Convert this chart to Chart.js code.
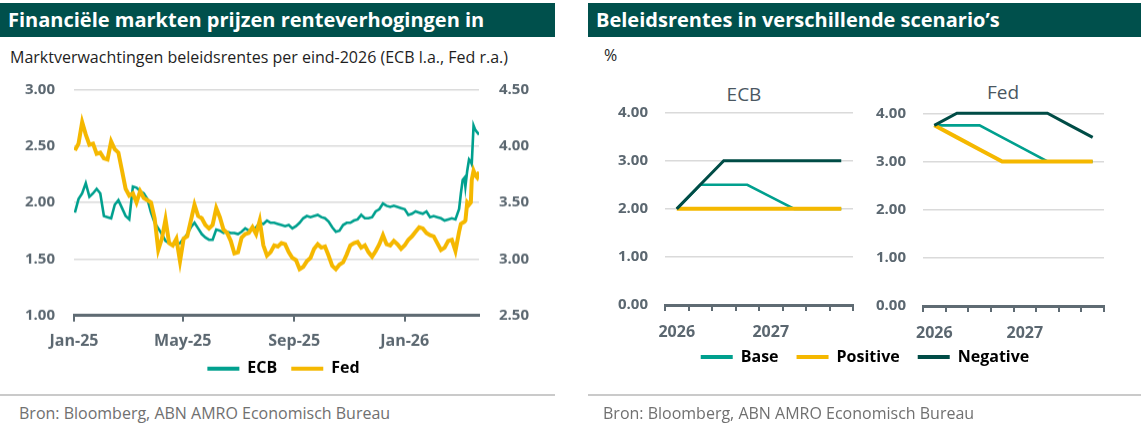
<!DOCTYPE html>
<html>
<head>
<meta charset="utf-8">
<title>Beleidsrentes</title>
<script src="https://cdn.jsdelivr.net/npm/chart.js"></script>
<style>
  body { margin:0; width:1145px; height:430px; background:#fff; position:relative; overflow:hidden;
         font-family:'Open Sans', sans-serif; }
  .bar { position:absolute; top:3px; height:34px; background:#00504c; color:#fff; font-weight:700;
         font-size:20px; line-height:34px; padding-left:8px; box-sizing:border-box; white-space:nowrap; }
  .sub { position:absolute; font-size:16px; line-height:22px; color:#1e1e1e; white-space:nowrap; }
  .panel { position:absolute; font-size:19px; color:#4a5761; transform:translateX(-50%); }
  .sep { position:absolute; top:394px; height:2px; background:#cacaca; }
  .src { position:absolute; top:402px; font-size:16px; line-height:22px; color:#707070; white-space:nowrap; }
  .box { position:absolute; }
</style>
</head>
<body>
<div class="bar" style="left:0;width:555px">Financiële markten prijzen renteverhogingen in</div>
<div class="bar" style="left:588px;width:553px">Beleidsrentes in verschillende scenario’s</div>
<div class="sub" style="left:10px;top:46px">Marktverwachtingen beleidsrentes per eind-2026 (ECB l.a., Fed r.a.)</div>
<div class="sub" style="left:604px;top:44px">%</div>
<div class="panel" style="left:744px;top:81px">ECB</div>
<div class="panel" style="left:1003px;top:79px">Fed</div>

<div class="box" style="left:0;top:75px;width:553px;height:317.7px"><canvas id="left"></canvas></div>
<div class="box" style="left:588px;top:80px;width:280px;height:265px"><canvas id="ecb"></canvas></div>
<div class="box" style="left:588px;top:80px;width:557px;height:308px"><canvas id="fed"></canvas></div>

<div class="sep" style="left:0;width:555px"></div>
<div class="sep" style="left:588px;width:553px"></div>
<div class="src" style="left:19px">Bron: Bloomberg, ABN AMRO Economisch Bureau</div>
<div class="src" style="left:603px">Bron: Bloomberg, ABN AMRO Economisch Bureau</div>

<script>
// left chart: market pricing of policy rates for end-2026
const dates = [
  '2025-01-02','2025-01-06','2025-01-10','2025-01-14','2025-01-18','2025-01-22','2025-01-26','2025-01-30',
  '2025-02-03','2025-02-07','2025-02-11','2025-02-15','2025-02-19','2025-02-23','2025-02-27',
  '2025-03-03','2025-03-07','2025-03-11','2025-03-15','2025-03-19','2025-03-23','2025-03-27','2025-03-31',
  '2025-04-04','2025-04-08','2025-04-12','2025-04-16','2025-04-20','2025-04-24','2025-04-28',
  '2025-05-02','2025-05-06','2025-05-10','2025-05-14','2025-05-18','2025-05-22','2025-05-26','2025-05-30',
  '2025-06-03','2025-06-07','2025-06-11','2025-06-15','2025-06-19','2025-06-23','2025-06-27',
  '2025-07-01','2025-07-05','2025-07-09','2025-07-13','2025-07-17','2025-07-21','2025-07-25','2025-07-29',
  '2025-08-02','2025-08-06','2025-08-10','2025-08-14','2025-08-18','2025-08-22','2025-08-26','2025-08-30',
  '2025-09-03','2025-09-07','2025-09-11','2025-09-15','2025-09-19','2025-09-23','2025-09-27',
  '2025-10-01','2025-10-05','2025-10-09','2025-10-13','2025-10-17','2025-10-21','2025-10-25','2025-10-29',
  '2025-11-02','2025-11-06','2025-11-10','2025-11-14','2025-11-18','2025-11-22','2025-11-26','2025-11-30',
  '2025-12-04','2025-12-08','2025-12-12','2025-12-16','2025-12-20','2025-12-24','2025-12-28',
  '2026-01-01','2026-01-05','2026-01-09','2026-01-13','2026-01-17','2026-01-21','2026-01-25','2026-01-29',
  '2026-02-02','2026-02-06','2026-02-10','2026-02-14','2026-02-18','2026-02-22','2026-02-26',
  '2026-03-02','2026-03-04','2026-03-06','2026-03-08','2026-03-09','2026-03-11','2026-03-13',
  '2026-03-15','2026-03-16','2026-03-18','2026-03-20','2026-03-22','2026-03-24'
];
const ecb = [
  1.91, 2.03, 2.08, 2.17, 2.05, 2.08, 2.12, 2.08,
  1.88, 1.87, 1.86, 1.98, 2.02, 1.95, 1.88,
  1.85, 2.14, 2.13, 2.10, 2.08, 2.03, 1.91, 1.82,
  1.77, 1.72, 1.66, 1.64, 1.63, 1.63, 1.64,
  1.68, 1.72, 1.78, 1.82, 1.77, 1.72, 1.69, 1.67,
  1.67, 1.76, 1.75, 1.73, 1.74, 1.73, 1.73,
  1.72, 1.74, 1.77, 1.75, 1.76, 1.78, 1.82, 1.81,
  1.84, 1.82, 1.82, 1.81, 1.80, 1.79, 1.80, 1.77,
  1.79, 1.82, 1.86, 1.88, 1.87, 1.88, 1.89,
  1.87, 1.86, 1.83, 1.78, 1.74, 1.75, 1.80, 1.82,
  1.82, 1.84, 1.85, 1.89, 1.86, 1.86, 1.87, 1.92,
  1.94, 1.99, 1.97, 1.96, 1.97, 1.96, 1.95,
  1.94, 1.89, 1.90, 1.92, 1.91, 1.90, 1.92, 1.87,
  1.88, 1.87, 1.86, 1.84, 1.85, 1.86, 1.85,
  1.94, 2.08, 2.20, 2.22, 2.14, 2.28, 2.38,
  2.36, 2.34, 2.68, 2.64, 2.62, 2.60
];
const fed = [
  3.96, 4.02, 4.21, 4.10, 4.01, 4.02, 3.93, 3.94,
  3.89, 3.88, 4.04, 3.97, 3.94, 3.78, 3.62,
  3.56, 3.58, 3.50, 3.60, 3.54, 3.52, 3.50, 3.36,
  3.08, 3.18, 3.35, 3.14, 3.12, 3.18, 2.98,
  3.18, 3.20, 3.34, 3.48, 3.38, 3.36, 3.30, 3.27,
  3.30, 3.45, 3.37, 3.26, 3.23, 3.16, 3.05,
  3.06, 3.19, 3.22, 3.23, 3.28, 3.22, 3.34, 3.12,
  3.03, 3.06, 3.12, 3.11, 3.14, 3.13, 3.06, 3.01,
  2.99, 2.91, 2.93, 2.98, 3.01, 3.09, 3.13,
  3.10, 3.11, 3.03, 2.94, 2.91, 2.95, 2.97, 3.04,
  3.12, 3.14, 3.15, 3.10, 3.12, 3.06, 3.02, 3.07,
  3.13, 3.21, 3.13, 3.12, 3.16, 3.13, 3.09,
  3.12, 3.17, 3.20, 3.24, 3.28, 3.27, 3.23, 3.21,
  3.20, 3.14, 3.08, 3.10, 3.16, 3.17, 3.07,
  3.24, 3.31, 3.32, 3.33, 3.34, 3.50, 3.48,
  3.50, 3.70, 3.78, 3.74, 3.72, 3.77
];
const axisStart = '2025-01-01';
const axisEnd = '2026-03-24';
const tickDates = ['2025-01-01', '2025-05-01', '2025-09-01', '2026-01-01'];
const tickLabels = ['Jan-25', 'May-25', 'Sep-25', 'Jan-26'];

// right charts: policy rate scenarios per quarter
const quarters = ['2026', '', '', '', '2027', '', '', ''];
const ecbBase     = [2.00, 2.50, 2.50, 2.50, 2.25, 2.00, 2.00, 2.00];
const ecbPositive = [2.00, 2.00, 2.00, 2.00, 2.00, 2.00, 2.00, 2.00];
const ecbNegative = [2.00, 2.50, 3.00, 3.00, 3.00, 3.00, 3.00, 3.00];
const fedBase     = [3.75, 3.75, 3.75, 3.50, 3.25, 3.00, 3.00, 3.00];
const fedPositive = [3.75, 3.50, 3.25, 3.00, 3.00, 3.00, 3.00, 3.00];
const fedNegative = [3.75, 4.00, 4.00, 4.00, 4.00, 4.00, 3.75, 3.50];

const TEAL = '#00a08e', YELLOW = '#f5b800', DARK = '#004c46';
const TXT = '#5b6770', AXIS = '#5f6b73', GRID = '#dadada';
const tickFont = { family: 'Open Sans', size: 15, weight: 'bold' };
const xFont = { family: 'Open Sans', size: 16, weight: 'bold' };

Chart.defaults.font.family = 'Open Sans';
Chart.defaults.animation = false;
Chart.defaults.plugins.tooltip.enabled = false;

const day = s => (Date.parse(s) - Date.parse(axisStart)) / 864e5;
// fixed axis sizes so the plot areas land where the reference has them
const fixWidth = w => s => { s.width = w; s.paddingTop = 0; s.paddingBottom = 0; };
const fixHeight = h => s => { s.height = h; };

// the reference tucks the legend right under the axis labels
const liftLegend = px => ({
  id: 'liftLegend',
  afterLayout(chart) {
    const l = chart.legend;
    if (l) { l.top -= px; l.bottom -= px; }
  }
});

const legendOf = gap => ({
  position: 'bottom',
  labels: {
    boxWidth: 32, boxHeight: 4, padding: gap, color: TXT, font: xFont,
    generateLabels: chart => chart.data.datasets.map((ds, i) => ({
      text: ds.label, fillStyle: ds.borderColor, strokeStyle: ds.borderColor,
      lineWidth: 0, hidden: false, datasetIndex: i
    }))
  }
});

new Chart(document.getElementById('left'), {
  type: 'line',
  data: {
    datasets: [
      { label: 'ECB', data: dates.map((d, i) => ({ x: day(d), y: ecb[i] })), yAxisID: 'yL',
        borderColor: TEAL, borderWidth: 2.6, pointRadius: 0, tension: 0, order: 2 },
      { label: 'Fed', data: dates.map((d, i) => ({ x: day(d), y: fed[i] })), yAxisID: 'yR',
        borderColor: YELLOW, borderWidth: 4, pointRadius: 0, tension: 0, order: 1 }
    ]
  },
  plugins: [liftLegend(7)],
  options: {
    responsive: true, maintainAspectRatio: false,
    layout: { padding: { top: 14.3, left: 14, right: 0, bottom: 0 } },
    plugins: { legend: legendOf(14) },
    scales: {
      x: {
        type: 'linear', min: day(axisStart), max: day(axisEnd),
        afterBuildTicks: s => { s.ticks = tickDates.map(d => ({ value: day(d) })); },
        afterFit: fixHeight(38),
        ticks: { autoSkip: false, maxRotation: 0, padding: 10, color: TXT, font: xFont,
                 callback: (v, i) => tickLabels[i] },
        grid: { drawOnChartArea: false, tickLength: 6, color: AXIS, lineWidth: 2 },
        border: { color: AXIS, width: 3 }
      },
      yL: {
        position: 'left', min: 1, max: 3, afterFit: fixWidth(60),
        ticks: { stepSize: 0.5, padding: 19, color: TXT, font: tickFont, callback: v => v.toFixed(2) },
        grid: { color: GRID, lineWidth: 1.5, drawTicks: false },
        border: { display: false }
      },
      yR: {
        position: 'right', min: 2.5, max: 4.5, afterFit: fixWidth(74),
        ticks: { stepSize: 0.5, padding: 20, color: TXT, font: tickFont, callback: v => v.toFixed(2) },
        grid: { drawOnChartArea: false, drawTicks: false },
        border: { display: false }
      }
    }
  }
});

function scenarioScales(yWidth, xHeight) {
  return {
    x: {
      type: 'category', offset: true, afterFit: fixHeight(xHeight),
      ticks: { autoSkip: false, maxRotation: 0, padding: 12, color: TXT, font: xFont },
      grid: { offset: true, drawOnChartArea: false, tickLength: 6, color: AXIS, lineWidth: 2 },
      border: { color: AXIS, width: 3 }
    },
    y: {
      min: 0, max: 4, afterFit: fixWidth(yWidth),
      ticks: { stepSize: 1, padding: 17, color: TXT, font: tickFont, callback: v => v.toFixed(2) },
      grid: { color: GRID, lineWidth: 1.5, drawTicks: false },
      border: { display: false }
    }
  };
}

function scenarioSets(base, positive, negative) {
  return [
    { label: 'Base', data: base, borderColor: TEAL, borderWidth: 2.6, pointRadius: 0, order: 3, clip: false },
    { label: 'Positive', data: positive, borderColor: YELLOW, borderWidth: 4, pointRadius: 0, order: 2, clip: false },
    { label: 'Negative', data: negative, borderColor: DARK, borderWidth: 3, pointRadius: 0, order: 1, clip: false }
  ];
}

new Chart(document.getElementById('ecb'), {
  type: 'line',
  data: { labels: quarters, datasets: scenarioSets(ecbBase, ecbPositive, ecbNegative) },
  options: {
    responsive: true, maintainAspectRatio: false,
    layout: { padding: { top: 32.7, left: 0, right: 15, bottom: 0 } },
    plugins: { legend: { display: false } },
    scales: scenarioScales(77, 40)
  }
});

new Chart(document.getElementById('fed'), {
  type: 'line',
  data: { labels: quarters, datasets: scenarioSets(fedBase, fedPositive, fedNegative) },
  plugins: [liftLegend(13)],
  options: {
    responsive: true, maintainAspectRatio: false,
    layout: { padding: { top: 33.3, left: 38, right: 41, bottom: 0 } },
    plugins: { legend: legendOf(18) },
    scales: scenarioScales(297, 38)
  }
});
</script>
</body>
</html>
